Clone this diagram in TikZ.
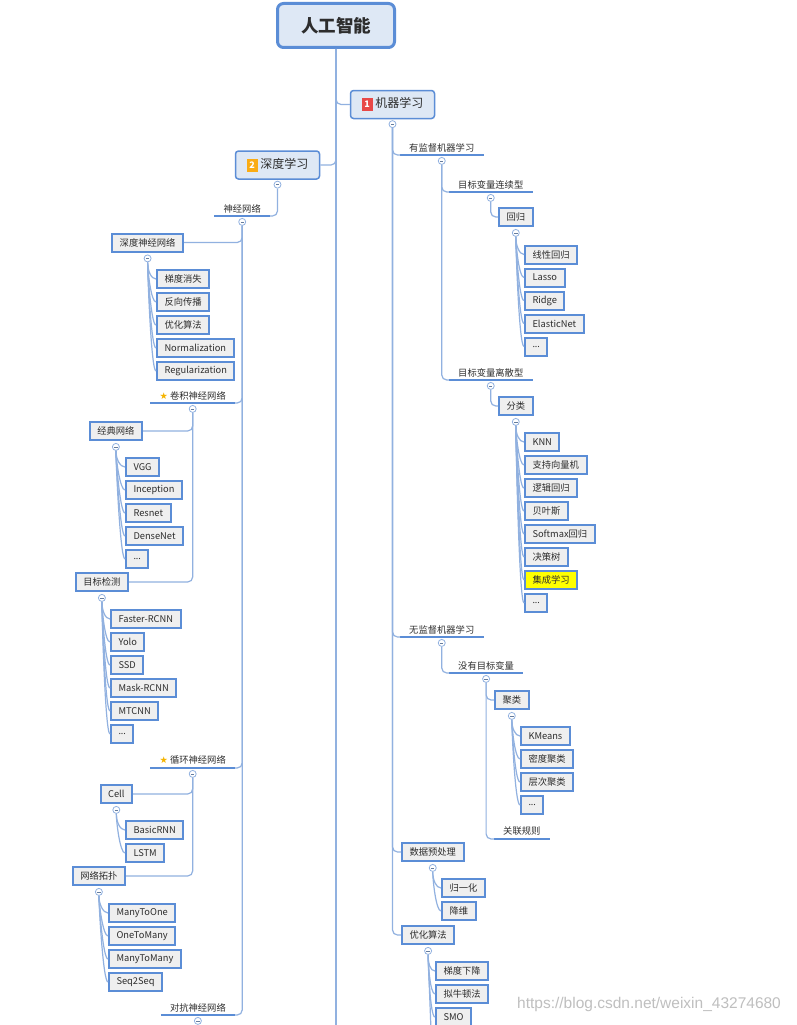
\documentclass[tikz,border=0pt]{standalone}
\usepackage{fontspec}
\setmainfont{Noto Sans CJK SC}
\newfontfamily\starfont{DejaVu Sans}
\newfontfamily\markfont{Liberation Sans}
\newfontfamily\latinfont{Noto Sans}
\definecolor{frameblue}{RGB}{91,141,214}
\definecolor{linkblue}{RGB}{145,177,224}
\definecolor{topfill}{RGB}{222,232,245}
\definecolor{leafgray}{RGB}{239,239,239}
\definecolor{inkgray}{RGB}{45,45,45}
\definecolor{badgered}{RGB}{232,72,72}
\definecolor{badgeorange}{RGB}{250,172,20}
\definecolor{staryellow}{RGB}{245,180,0}
\definecolor{hotyellow}{RGB}{255,255,0}
\newcommand{\moredots}{{\latinfont .\kern0pt.\kern0pt.}}
\newcommand{\numbadge}[2]{{\setlength{\fboxsep}{2pt}\colorbox{#1}{\makebox[7pt][c]{\rule[-1.5pt]{0pt}{9pt}\fontsize{9}{9}\selectfont\bfseries\textcolor{white}{#2}}}}}
\newcommand{\starmark}{{\starfont\textcolor{staryellow}{★}}}

\begin{document}
\begin{tikzpicture}[x=1pt, y=-1pt,
    every node/.style={text=inkgray, font=\fontsize{9.3}{11}\selectfont},
    root/.style={draw=frameblue, line width=3pt, rounded corners=6pt, fill=topfill, minimum width=117pt, minimum height=44pt, font=\fontsize{17.5}{20}\selectfont\bfseries},
    branch/.style={draw=frameblue, line width=1.5pt, rounded corners=3pt, fill=topfill, minimum width=84pt, minimum height=28pt, font=\fontsize{12}{14}\selectfont},
    leaf/.style={draw=frameblue, line width=2pt, fill=leafgray, minimum height=18pt, minimum width=22pt, inner xsep=7.5pt},
    hot/.style={leaf, fill=hotyellow},
    topic/.style={inner xsep=9pt, inner ysep=3pt},
    uline/.style={draw=frameblue, line width=2pt},
    link/.style={draw=linkblue, line width=1.2pt, rounded corners=5pt},
    fold/.style={circle, draw=linkblue, fill=white, line width=0.8pt, minimum size=7pt, inner sep=0pt,
      path picture={\draw[linkblue!70!black, line width=0.6pt] ([xshift=1.8pt]path picture bounding box.west) -- ([xshift=-1.8pt]path picture bounding box.east);}}
  ]
  \useasboundingbox (0,0) rectangle (797,1025);
  \clip (0,0) rectangle (797,1025);
  \fill[white] (0,0) rectangle (797,1025);

  % root and the two main branches
  \node[root] (ai) at (336,25.5) {人工智能};
  \node[branch] (ml) at (392.5,104.5) {\numbadge{badgered}{1} 机器学习};
  \node[branch] (dl) at (277.5,165) {\numbadge{badgeorange}{2} 深度学习};
  \coordinate (spineend) at (336,1030);
  \node[fold, anchor=north] (mlc) at ([yshift=-1pt]ml.south) {};
  \node[fold, anchor=north] (dlc) at ([yshift=-1pt]dl.south) {};

  % machine learning
  \node[topic, anchor=south west] (sup) at (400,155) {有监督机器学习};
  \node[fold, anchor=north] (supc) at ([yshift=-2pt]sup.south) {};
  \node[topic, anchor=south west] (cont) at (449,192) {目标变量连续型};
  \node[fold, anchor=north] (contc) at ([yshift=-2pt]cont.south) {};
  \node[leaf, anchor=west] (reg) at (498,217) {回归};
  \node[fold, anchor=north] (regc) at ([yshift=-2pt]reg.south) {};
  \foreach \t [count=\i] in {线性回归,Lasso,Ridge,ElasticNet,\moredots}
    \node[leaf, anchor=west] (reg\i) at (524,231.5+23*\i) {\t};
  \node[topic, anchor=south west] (disc) at (449,380) {目标变量离散型};
  \node[fold, anchor=north] (discc) at ([yshift=-2pt]disc.south) {};
  \node[leaf, anchor=west] (cls) at (498,406) {分类};
  \node[fold, anchor=north] (clsc) at ([yshift=-2pt]cls.south) {};
  \foreach \t/\s [count=\i] in {KNN/leaf,支持向量机/leaf,逻辑回归/leaf,贝叶斯/leaf,Softmax回归/leaf,决策树/leaf,集成学习/hot,\moredots/leaf}
    \node[\s, anchor=west] (cls\i) at (524,419+23*\i) {\t};

  \node[topic, anchor=south west] (unsup) at (400,637) {无监督机器学习};
  \node[fold, anchor=north] (unsupc) at ([yshift=-2pt]unsup.south) {};
  \node[topic, anchor=south west] (free) at (449,673) {没有目标变量};
  \node[fold, anchor=north] (freec) at ([yshift=-2pt]free.south) {};
  \node[leaf, anchor=west] (clu) at (494,700) {聚类};
  \node[fold, anchor=north] (cluc) at ([yshift=-2pt]clu.south) {};
  \foreach \t [count=\i] in {KMeans,密度聚类,层次聚类,\moredots}
    \node[leaf, anchor=west] (clu\i) at (520,713+23*\i) {\t};
  \node[topic, anchor=south west] (assoc) at (494,839) {关联规则};

  \node[leaf, anchor=west] (prep) at (401,852) {数据预处理};
  \node[fold, anchor=north] (prepc) at ([yshift=-2pt]prep.south) {};
  \foreach \t [count=\i] in {归一化,降维}
    \node[leaf, anchor=west] (prep\i) at (441,865+23*\i) {\t};
  \node[leaf, anchor=west] (opt) at (401,935) {优化算法};
  \node[fold, anchor=north] (optc) at ([yshift=-2pt]opt.south) {};
  \foreach \t [count=\i] in {梯度下降,拟牛顿法,SMO}
    \node[leaf, anchor=west] (opt\i) at (435,948+23*\i) {\t};
  \coordinate (optend) at (431,1030);

  % deep learning
  \node[topic, anchor=south east] (nn) at (270,216) {神经网络};
  \node[fold, anchor=north] (nnc) at ([yshift=-2pt]nn.south) {};
  \node[leaf, anchor=east] (dnn) at (184,242.5) {深度神经网络};
  \node[fold, anchor=north] (dnnc) at ([yshift=-2pt]dnn.south) {};
  \foreach \t [count=\i] in {梯度消失,反向传播,优化算法,Normalization,Regularization}
    \node[leaf, anchor=west] (dnn\i) at (156,256+23*\i) {\t};
  \node[topic, anchor=south east] (cnn) at (235,403) {\starmark\ 卷积神经网络};
  \node[fold, anchor=north] (cnnc) at ([yshift=-2pt]cnn.south) {};
  \node[leaf, anchor=east] (classic) at (143,431) {经典网络};
  \node[fold, anchor=north] (classicc) at ([yshift=-2pt]classic.south) {};
  \foreach \t [count=\i] in {VGG,Inception,Resnet,DenseNet,\moredots}
    \node[leaf, anchor=west] (classic\i) at (125,444+23*\i) {\t};
  \node[leaf, anchor=east] (det) at (129,582) {目标检测};
  \node[fold, anchor=north] (detc) at ([yshift=-2pt]det.south) {};
  \foreach \t [count=\i] in {Faster-RCNN,Yolo,SSD,Mask-RCNN,MTCNN,\moredots}
    \node[leaf, anchor=west] (det\i) at (110,596+23*\i) {\t};
  \node[topic, anchor=south east] (rnn) at (235,768) {\starmark\ 循环神经网络};
  \node[fold, anchor=north] (rnnc) at ([yshift=-2pt]rnn.south) {};
  \node[leaf, anchor=east] (cell) at (133,794) {Cell};
  \node[fold, anchor=north] (cellc) at ([yshift=-2pt]cell.south) {};
  \foreach \t [count=\i] in {BasicRNN,LSTM}
    \node[leaf, anchor=west] (cell\i) at (125,807+23*\i) {\t};
  \node[leaf, anchor=east] (topo) at (126,876) {网络拓扑};
  \node[fold, anchor=north] (topoc) at ([yshift=-2pt]topo.south) {};
  \foreach \t [count=\i] in {ManyToOne,OneToMany,ManyToMany,Seq2Seq}
    \node[leaf, anchor=west] (topo\i) at (108,890+23*\i) {\t};
  \node[topic, anchor=south east] (gan) at (235,1015) {对抗神经网络};
  \node[fold, anchor=north] (ganc) at ([yshift=-2pt]gan.south) {};

  \node[anchor=west, inner sep=0pt, text=black!25, font=\markfont\fontsize{15.5}{17}\selectfont] (mark) at (517,1004) {https://blog.csdn.net/weixin\_43274680};

  % underlines of the plain topics
  \foreach \n in {sup,cont,disc,unsup,free,assoc,nn,cnn,rnn,gan}
    \draw[uline] (\n.south west) -- (\n.south east);

  % connectors
  \draw[link] (ai.south) -- (spineend);
  \draw[link] (ai.south) |- (ml.west);
  \draw[link] (ai.south) |- (dl.east);
  \draw[link] (mlc.south) |- (sup.south west);
  \draw[link] (mlc.south) |- (unsup.south west);
  \draw[link] (mlc.south) |- (prep.west);
  \draw[link] (mlc.south) |- (opt.west);
  \draw[link] (supc.south) |- (cont.south west);
  \draw[link] (supc.south) |- (disc.south west);
  \draw[link] (contc.south) |- (reg.west);
  \draw[link] (discc.south) |- (cls.west);
  \draw[link] (unsupc.south) |- (free.south west);
  \draw[link] (freec.south) |- (clu.west);
  \draw[link] (freec.south) |- (assoc.south west);
  \draw[link] (dlc.south) |- (nn.south east);
  \draw[link] (nnc.south) |- (dnn.east);
  \draw[link] (nnc.south) |- (cnn.south east);
  \draw[link] (nnc.south) |- (rnn.south east);
  \draw[link] (nnc.south) |- (gan.south east);
  \draw[link] (cnnc.south) |- (classic.east);
  \draw[link] (cnnc.south) |- (det.east);
  \draw[link] (rnnc.south) |- (cell.east);
  \draw[link] (rnnc.south) |- (topo.east);
  \foreach \p/\n in {reg/5,cls/8,clu/4,prep/2,opt/3,dnn/5,classic/5,det/6,cell/2,topo/4}
    \foreach \i in {1,...,\n}
      \draw[link] (\p c.south) .. controls +(0,8) and +(-5,0) .. (\p\i.west);
  \draw[link] (optc.south) -- (optend);
\end{tikzpicture}
\end{document}
